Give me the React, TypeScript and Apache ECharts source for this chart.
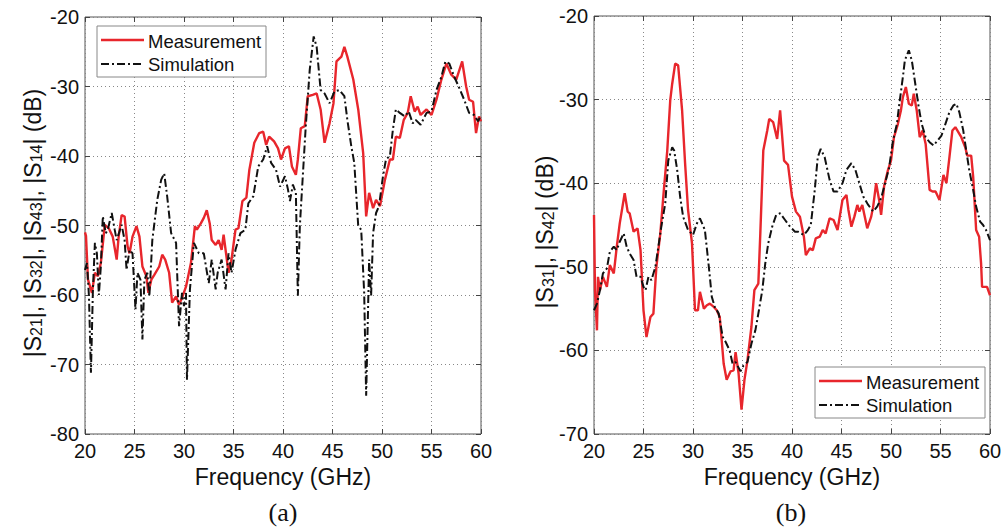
import React, { useEffect, useRef } from "react";
import * as echarts from "echarts";

// ---------- Data (frequency GHz, magnitude dB) ----------
const measA: [number, number][] = [[20.0,-51.0],[20.1,-51.5],[20.3,-57.8],[20.7,-59.7],[21.0,-56.8],[21.3,-57.3],[21.6,-55.4],[22.0,-49.9],[22.4,-50.4],[22.8,-51.6],[23.2,-54.9],[23.4,-51.6],[23.7,-48.5],[24.0,-48.7],[24.3,-53.0],[24.5,-54.0],[24.8,-51.6],[25.2,-50.1],[25.5,-51.6],[25.8,-55.9],[26.2,-57.3],[26.4,-59.7],[26.7,-57.8],[27.0,-57.1],[27.5,-55.9],[27.8,-54.2],[28.1,-54.9],[28.5,-56.8],[28.8,-61.1],[29.2,-60.2],[29.5,-61.4],[29.8,-60.4],[30.2,-58.8],[30.7,-55.4],[31.1,-50.1],[31.3,-50.6],[31.7,-49.7],[32.0,-48.9],[32.3,-47.8],[32.6,-49.7],[32.8,-52.1],[33.2,-52.8],[33.5,-52.1],[33.8,-53.5],[34.0,-51.3],[34.5,-56.8],[34.8,-54.9],[35.2,-50.6],[35.5,-50.4],[35.9,-46.5],[36.3,-46.0],[36.6,-42.0],[37.1,-38.1],[37.6,-36.7],[38.0,-36.5],[38.3,-38.4],[38.6,-37.2],[39.1,-37.9],[39.5,-38.9],[39.8,-40.5],[40.2,-38.9],[40.6,-38.6],[40.9,-41.5],[41.3,-42.7],[41.5,-40.5],[41.8,-36.0],[42.2,-35.7],[42.5,-31.4],[43.0,-31.2],[43.4,-31.0],[43.8,-33.3],[44.2,-38.1],[44.7,-35.3],[45.1,-32.4],[45.4,-26.4],[45.9,-25.7],[46.2,-24.3],[46.5,-25.7],[47.1,-29.0],[47.6,-33.3],[48.1,-39.6],[48.4,-48.7],[48.7,-45.3],[49.1,-47.5],[49.4,-46.3],[49.8,-47.2],[50.3,-43.4],[50.8,-40.5],[51.1,-40.5],[51.4,-37.2],[51.8,-37.4],[52.2,-34.8],[52.6,-33.8],[52.9,-31.4],[53.3,-33.6],[53.6,-32.9],[53.9,-34.1],[54.5,-33.3],[55.0,-34.1],[55.5,-31.9],[56.0,-29.0],[56.5,-26.7],[57.0,-28.3],[57.5,-29.0],[58.1,-26.4],[58.5,-30.0],[58.8,-31.9],[59.2,-32.2],[59.5,-36.7],[59.8,-34.3],[60.0,-35.0]];

const simA: [number, number][] = [[20.0,-56.4],[20.2,-55.4],[20.4,-60.2],[20.6,-71.2],[20.8,-59.2],[21.0,-52.5],[21.2,-54.0],[21.4,-60.0],[21.6,-55.9],[21.8,-48.7],[22.1,-51.1],[22.3,-50.6],[22.7,-48.2],[23.0,-50.6],[23.2,-52.1],[23.7,-49.9],[24.0,-52.1],[24.2,-56.4],[24.5,-53.5],[24.8,-54.0],[25.1,-62.1],[25.3,-56.8],[25.6,-57.8],[25.8,-66.4],[26.0,-57.8],[26.3,-56.8],[26.5,-60.2],[26.8,-52.1],[27.3,-46.3],[27.7,-43.4],[28.0,-42.5],[28.3,-45.8],[28.7,-51.1],[29.2,-52.5],[29.5,-64.5],[29.8,-59.7],[30.0,-61.6],[30.2,-59.7],[30.3,-72.2],[30.6,-59.2],[31.0,-52.5],[31.5,-54.0],[32.0,-54.0],[32.5,-58.3],[32.8,-54.9],[33.2,-59.2],[33.4,-56.8],[33.8,-54.9],[34.2,-59.2],[34.5,-54.0],[34.8,-56.8],[35.2,-53.5],[35.7,-51.1],[36.2,-50.6],[36.5,-46.8],[37.0,-45.8],[37.5,-41.5],[38.0,-40.5],[38.4,-38.6],[38.8,-41.0],[39.3,-42.0],[39.7,-44.4],[40.2,-42.9],[40.5,-44.8],[40.7,-46.5],[41.0,-44.1],[41.3,-45.3],[41.5,-60.1],[41.7,-50.1],[41.9,-45.3],[42.3,-35.7],[42.7,-27.6],[43.1,-22.8],[43.4,-24.3],[43.8,-30.5],[44.2,-31.0],[44.7,-32.4],[45.2,-30.7],[45.7,-30.5],[46.2,-31.4],[46.5,-34.8],[46.9,-38.6],[47.2,-41.0],[47.6,-50.1],[47.9,-50.6],[48.2,-59.7],[48.4,-74.5],[48.7,-54.9],[48.9,-60.1],[49.1,-51.1],[49.4,-48.2],[49.7,-47.2],[50.1,-42.9],[50.4,-40.5],[50.8,-40.0],[51.1,-36.2],[51.4,-33.3],[51.8,-33.8],[52.3,-34.3],[52.7,-33.6],[53.1,-35.3],[53.4,-34.8],[53.9,-35.5],[54.5,-33.8],[55.0,-33.6],[55.5,-30.5],[56.0,-28.6],[56.4,-26.4],[56.8,-26.7],[57.3,-28.6],[57.8,-30.2],[58.3,-31.9],[58.8,-33.8],[59.3,-34.1],[59.7,-35.0],[60.0,-34.1]];

const measB: [number, number][] = [[20.0,-43.8],[20.1,-52.8],[20.3,-57.6],[20.4,-51.2],[20.6,-52.8],[20.9,-51.2],[21.3,-52.4],[21.6,-49.8],[22.0,-50.8],[22.3,-47.6],[22.6,-44.8],[23.1,-41.2],[23.4,-43.4],[23.6,-43.6],[24.0,-45.8],[24.4,-45.4],[24.7,-48.0],[25.0,-55.2],[25.3,-58.4],[25.7,-56.0],[26.0,-55.6],[26.3,-50.0],[26.7,-46.0],[27.0,-41.6],[27.4,-36.1],[27.7,-30.1],[27.9,-28.1],[28.2,-25.7],[28.5,-25.9],[28.9,-31.3],[29.2,-37.6],[29.5,-43.2],[29.9,-47.2],[30.2,-55.2],[30.5,-55.2],[30.7,-53.0],[31.1,-55.0],[31.4,-54.6],[31.7,-54.4],[32.1,-54.8],[32.4,-55.2],[32.7,-56.0],[33.1,-61.6],[33.4,-63.5],[33.8,-62.5],[34.1,-62.4],[34.3,-60.2],[34.6,-62.7],[34.9,-67.1],[35.2,-63.5],[35.5,-61.2],[35.9,-57.2],[36.2,-52.8],[36.6,-52.0],[36.8,-46.0],[37.1,-36.1],[37.5,-33.7],[37.7,-32.3],[38.1,-32.7],[38.5,-34.7],[38.8,-31.3],[39.2,-37.3],[39.6,-37.8],[40.0,-41.6],[40.4,-43.4],[40.8,-44.0],[41.2,-46.4],[41.4,-48.6],[41.8,-47.8],[42.1,-48.0],[42.4,-46.6],[42.8,-46.4],[43.1,-45.6],[43.4,-46.0],[43.8,-44.2],[44.2,-44.4],[44.6,-45.6],[45.1,-42.0],[45.5,-41.4],[45.7,-43.2],[46.0,-45.2],[46.3,-44.0],[46.6,-42.6],[46.8,-43.4],[47.1,-42.6],[47.6,-45.4],[48.0,-44.0],[48.2,-42.8],[48.5,-40.0],[48.8,-42.0],[49.0,-43.8],[49.3,-40.4],[49.7,-38.4],[50.0,-37.3],[50.3,-34.5],[50.7,-32.9],[51.0,-31.3],[51.2,-29.7],[51.5,-28.5],[51.8,-30.5],[52.1,-30.7],[52.3,-29.3],[52.6,-31.3],[52.9,-34.5],[53.2,-33.7],[53.5,-35.3],[53.9,-40.8],[54.2,-41.0],[54.5,-41.0],[54.9,-42.0],[55.3,-39.0],[55.6,-40.0],[55.9,-36.9],[56.2,-33.7],[56.5,-33.3],[56.8,-33.9],[57.1,-34.5],[57.5,-35.7],[57.7,-36.7],[58.1,-36.7],[58.3,-39.2],[58.6,-45.6],[58.9,-46.4],[59.1,-49.6],[59.2,-52.4],[59.7,-52.4],[60.0,-53.4]];

const simB: [number, number][] = [[20.0,-55.2],[20.3,-54.4],[20.6,-52.8],[20.9,-50.8],[21.3,-50.2],[21.6,-48.2],[22.0,-47.6],[22.3,-48.0],[22.6,-47.0],[23.0,-46.0],[23.3,-47.6],[23.6,-48.4],[24.0,-49.2],[24.3,-51.2],[24.7,-51.2],[25.0,-52.4],[25.2,-52.8],[25.5,-51.2],[25.8,-51.6],[26.2,-50.0],[26.5,-47.6],[26.8,-45.2],[27.2,-42.4],[27.5,-37.3],[27.9,-35.7],[28.1,-36.1],[28.4,-38.4],[28.7,-41.6],[29.0,-44.0],[29.5,-45.6],[30.0,-46.2],[30.4,-44.8],[30.7,-44.2],[31.2,-45.6],[31.6,-50.0],[31.9,-53.6],[32.2,-54.8],[32.6,-55.6],[33.0,-58.4],[33.3,-59.0],[33.7,-60.0],[34.0,-61.6],[34.3,-61.4],[34.8,-62.5],[35.1,-61.8],[35.5,-61.4],[35.9,-59.2],[36.3,-57.6],[36.6,-55.6],[37.0,-52.8],[37.3,-49.6],[37.6,-47.2],[38.0,-45.2],[38.4,-43.8],[38.8,-43.6],[39.3,-44.4],[39.8,-45.2],[40.3,-45.8],[40.6,-45.8],[41.2,-46.2],[41.6,-45.6],[41.9,-45.0],[42.3,-40.8],[42.6,-36.9],[42.9,-35.9],[43.3,-36.9],[43.8,-39.6],[44.2,-41.0],[44.6,-41.0],[45.1,-40.0],[45.5,-38.4],[46.0,-37.6],[46.4,-38.4],[46.8,-40.0],[47.2,-41.6],[47.7,-42.6],[48.2,-43.4],[48.6,-42.8],[49.0,-41.8],[49.4,-40.0],[49.8,-38.2],[50.2,-34.9],[50.6,-32.9],[50.8,-30.9],[51.2,-27.3],[51.4,-25.3],[51.8,-24.1],[52.1,-25.3],[52.5,-28.5],[52.8,-30.9],[53.1,-32.9],[53.5,-34.5],[53.9,-35.1],[54.3,-35.5],[54.7,-34.9],[55.1,-34.3],[55.5,-32.9],[55.9,-31.5],[56.3,-30.7],[56.6,-30.5],[56.9,-31.5],[57.3,-33.7],[57.6,-36.1],[57.9,-38.4],[58.3,-40.8],[58.6,-42.8],[59.0,-44.6],[59.3,-45.0],[59.6,-45.6],[60.0,-46.8]];

const seriesNames = ["Measurement", "Simulation"];
const xRange = { min: 20, max: 60, interval: 5 };
const yRangeA = { min: -80, max: -20, interval: 10 };
const yRangeB = { min: -70, max: -20, interval: 10 };
const captions = ["(a)", "(b)"];
const xTitle = "Frequency (GHz)";

const RED = "#e8262c";
const BLACK = "#111111";
const DASHDOT = [8, 3, 2, 3];
const FONT = "Liberation Sans, Arial, Helvetica, sans-serif";

export default function App() {
  const ref = useRef<HTMLDivElement>(null);

  useEffect(() => {
    if (!ref.current) return;
    const chart = echarts.init(ref.current, null, { renderer: "svg" });

    const grids = [
      { left: 85, top: 17, width: 396, height: 417 },
      { left: 594, top: 16, width: 396, height: 418 },
    ];

    const mainX = (gi: number) => ({
      type: "value",
      gridIndex: gi,
      ...xRange,
      position: "bottom",
      axisLine: { show: false },
      axisTick: { show: true, inside: true, length: 5, lineStyle: { color: "#444" } },
      axisLabel: { color: "#111", fontSize: 20, fontFamily: FONT, margin: 7 },
      splitLine: { show: true, lineStyle: { color: "#888", type: [1, 3], width: 1 } },
      name: xTitle,
      nameLocation: "middle",
      nameGap: 31,
      nameTextStyle: { color: "#111", fontSize: 23, fontFamily: FONT },
    });
    const topX = (gi: number) => ({
      type: "value",
      gridIndex: gi,
      ...xRange,
      position: "top",
      axisLine: { show: false },
      axisTick: { show: true, inside: true, length: 5, lineStyle: { color: "#444" } },
      axisLabel: { show: false },
      splitLine: { show: false },
    });
    const mainY = (gi: number, r: any) => ({
      type: "value",
      gridIndex: gi,
      ...r,
      position: "left",
      axisLine: { show: false },
      axisTick: { show: true, inside: true, length: 5, lineStyle: { color: "#444" } },
      axisLabel: { color: "#111", fontSize: 20, fontFamily: FONT, margin: 6 },
      splitLine: { show: true, lineStyle: { color: "#888", type: [1, 3], width: 1 } },
    });
    const rightY = (gi: number, r: any) => ({
      type: "value",
      gridIndex: gi,
      ...r,
      position: "right",
      axisLine: { show: false },
      axisTick: { show: true, inside: true, length: 5, lineStyle: { color: "#444" } },
      axisLabel: { show: false },
      splitLine: { show: false },
    });

    const lineSeries = (name: string, data: [number, number][], idx: number, red: boolean) => ({
      name,
      type: "line",
      xAxisIndex: idx,
      yAxisIndex: idx,
      data,
      showSymbol: false,
      symbol: "none",
      lineStyle: red
        ? { color: RED, width: 2.4, type: "solid" }
        : { color: BLACK, width: 2, type: DASHDOT },
      z: red ? 3 : 4,
    });

    const legend = (x: number, y: number, w: number, h: number) => ({
      type: "group",
      children: [
        { type: "rect", shape: { x, y, width: w, height: h }, style: { fill: "#fff", stroke: "#888", lineWidth: 1 }, z: 10 },
        { type: "line", shape: { x1: x + 4, y1: y + 14, x2: x + 47, y2: y + 14 }, style: { stroke: RED, lineWidth: 2.6 }, z: 11 },
        { type: "line", shape: { x1: x + 4, y1: y + 38, x2: x + 47, y2: y + 38 }, style: { stroke: BLACK, lineWidth: 2, lineDash: DASHDOT }, z: 11 },
        { type: "text", x: x + 51, y: y + 15, style: { text: seriesNames[0], fill: "#111", font: `18.5px ${FONT}`, verticalAlign: "middle" }, z: 11 },
        { type: "text", x: x + 51, y: y + 38, style: { text: seriesNames[1], fill: "#111", font: `18.5px ${FONT}`, verticalAlign: "middle" }, z: 11 },
      ],
    });

    const subRich = {
      m: { fontSize: 23, fontFamily: FONT, fill: "#111" },
      s: { fontSize: 16, fontFamily: FONT, fill: "#111", verticalAlign: "bottom" },
    };

    chart.setOption({
      animation: false,
      backgroundColor: "#fff",
      grid: grids.map((g) => ({ ...g, show: true, borderColor: "#555", borderWidth: 1, backgroundColor: "#fff" })),
      xAxis: [mainX(0), mainX(1), topX(0), topX(1)],
      yAxis: [mainY(0, yRangeA), mainY(1, yRangeB), rightY(0, yRangeA), rightY(1, yRangeB)],
      series: [
        lineSeries(seriesNames[0], measA, 0, true),
        lineSeries(seriesNames[1], simA, 0, false),
        lineSeries(seriesNames[0], measB, 1, true),
        lineSeries(seriesNames[1], simB, 1, false),
      ],
      graphic: [
        legend(97, 26, 169, 51),
        legend(815, 367, 170, 51),
        {
          type: "text",
          x: 33,
          y: 223,
          rotation: Math.PI / 2,
          style: {
            text: "{m||S}{s|21}{m||, |S}{s|32}{m||, |S}{s|43}{m||, |S}{s|14}{m|| (dB)}",
            rich: subRich,
            align: "center",
            verticalAlign: "middle",
          },
        },
        {
          type: "text",
          x: 545,
          y: 232,
          rotation: Math.PI / 2,
          style: {
            text: "{m||S}{s|31}{m||, |S}{s|42}{m|| (dB)}",
            rich: subRich,
            align: "center",
            verticalAlign: "middle",
          },
        },
        { type: "text", x: 283, y: 512, style: { text: captions[0], fill: "#111", font: "26px Liberation Serif, Times New Roman, serif", align: "center", verticalAlign: "middle" } },
        { type: "text", x: 791, y: 512, style: { text: captions[1], fill: "#111", font: "26px Liberation Serif, Times New Roman, serif", align: "center", verticalAlign: "middle" } },
      ],
    });

    return () => chart.dispose();
  }, []);

  return <div ref={ref} style={{ position: "fixed", left: 0, top: 0, width: 1005, height: 527 }} />;
}
